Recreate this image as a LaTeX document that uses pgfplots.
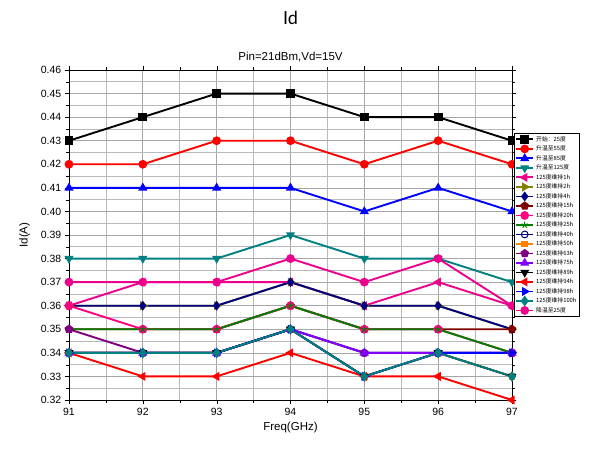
\documentclass[border=0pt]{standalone}
\usepackage{pgfplots}
\pgfplotsset{compat=1.18}
\usepackage{fontspec}
\setmainfont{Liberation Sans}
\newfontfamily\cjk{Noto Sans CJK SC}
\newfontfamily\titlefont{Lato}
\definecolor{cTeal}{RGB}{0,128,128}
\definecolor{cOlive}{RGB}{128,128,0}
\definecolor{cNavy}{RGB}{0,0,128}
\definecolor{cMaroon}{RGB}{128,0,0}
\definecolor{cPink}{RGB}{255,0,128}
\definecolor{cGreen}{RGB}{0,128,0}
\definecolor{cOrange}{RGB}{255,128,0}
\definecolor{cPurple}{RGB}{128,0,128}
\definecolor{cViolet}{RGB}{128,0,255}
\definecolor{cTeal2}{RGB}{0,128,128}
\begin{document}
\begin{tikzpicture}[x=1pt,y=1pt]
\useasboundingbox (-69,-54) rectangle (526,400);
\begin{axis}[
  at={(0,0)}, anchor=south west,
  scale only axis, width=443pt, height=330pt,
  xmin=91, xmax=97, ymin=0.32, ymax=0.46,
  xtick={91,...,97}, ytick={0.32,0.33,...,0.465},
  minor x tick num=1, minor y tick num=1,
  grid=both,
  major grid style={gray!70, line width=0.7pt},
  minor grid style={gray!55, line width=0.6pt},
  axis line style={black, line width=0.9pt},
  tick style={black},
  tick align=outside,
  yticklabel style={/pgf/number format/fixed,/pgf/number format/fixed zerofill,/pgf/number format/precision=2},
  /pgf/number format/assume math mode=true,
  ticklabel style={font=\fontsize{10.5}{12}\selectfont},
  xlabel={Freq(GHz)}, ylabel={Id(A)},
  label style={font=\fontsize{11.5}{13}\selectfont},
  ylabel style={yshift=4pt},
  title={Pin=21dBm,Vd=15V},
  title style={font=\fontsize{11.5}{13}\selectfont, yshift=-2pt},
  every axis plot/.append style={line width=1.9pt, mark size=3.4pt},
  legend style={at={(445pt,267pt)}, anchor=north west, font=\cjk\fontsize{5.8}{6}\selectfont,
    draw=black, line width=0.5pt, inner sep=1pt, row sep=-0.9pt, cells={anchor=west}},
  legend cell align=left,
  clip=false,
]
\addplot[black, mark=square*] coordinates {(91,0.43)(92,0.44)(93,0.45)(94,0.45)(95,0.44)(96,0.44)(97,0.43)};
\addlegendentry{开始：25度}
\addplot[red, mark=*] coordinates {(91,0.42)(92,0.42)(93,0.43)(94,0.43)(95,0.42)(96,0.43)(97,0.42)};
\addlegendentry{升温至55度}
\addplot[blue, mark=triangle*] coordinates {(91,0.41)(92,0.41)(93,0.41)(94,0.41)(95,0.40)(96,0.41)(97,0.40)};
\addlegendentry{升温至85度}
\addplot[cTeal, mark=triangle*, mark options={rotate=180}] coordinates {(91,0.38)(92,0.38)(93,0.38)(94,0.39)(95,0.38)(96,0.38)(97,0.37)};
\addlegendentry{升温至125度}
\addplot[magenta, mark=triangle*, mark options={rotate=90}] coordinates {(91,0.36)(92,0.37)(93,0.37)(94,0.37)(95,0.36)(96,0.37)(97,0.36)};
\addlegendentry{125度维持1h}
\addplot[cOlive, mark=triangle*, mark options={rotate=-90}] coordinates {(91,0.36)(92,0.36)(93,0.36)(94,0.37)(95,0.36)(96,0.36)(97,0.35)};
\addlegendentry{125度维持2h}
\addplot[cNavy, mark=diamond*] coordinates {(91,0.36)(92,0.36)(93,0.36)(94,0.37)(95,0.36)(96,0.36)(97,0.35)};
\addlegendentry{125度维持4h}
\addplot[cMaroon, mark=pentagon*] coordinates {(91,0.35)(92,0.35)(93,0.35)(94,0.36)(95,0.35)(96,0.35)(97,0.35)};
\addlegendentry{125度维持15h}
\addplot[cPink, mark=*] coordinates {(91,0.36)(92,0.35)(93,0.35)(94,0.36)(95,0.35)(96,0.35)(97,0.34)};
\addlegendentry{125度维持20h}
\addplot[cGreen, mark=star, mark options={line width=1pt}] coordinates {(91,0.35)(92,0.35)(93,0.35)(94,0.36)(95,0.35)(96,0.35)(97,0.34)};
\addlegendentry{125度维持25h}
\addplot[cNavy, mark=o, mark options={line width=1pt}] coordinates {(91,0.34)(92,0.34)(93,0.34)(94,0.35)(95,0.34)(96,0.34)(97,0.34)};
\addlegendentry{125度维持40h}
\addplot[cOrange, mark=square*, mark size=2.3pt] coordinates {(91,0.34)(92,0.34)(93,0.34)(94,0.35)(95,0.33)(96,0.34)(97,0.33)};
\addlegendentry{125度维持50h}
\addplot[cPurple, mark=pentagon*] coordinates {(91,0.35)(92,0.34)(93,0.34)(94,0.35)(95,0.34)(96,0.34)(97,0.34)};
\addlegendentry{125度维持63h}
\addplot[cViolet, mark=triangle*] coordinates {(91,0.34)(92,0.34)(93,0.34)(94,0.35)(95,0.34)(96,0.34)(97,0.34)};
\addlegendentry{125度维持75h}
\addplot[black, mark=triangle*, mark options={rotate=180}] coordinates {(91,0.34)(92,0.34)(93,0.34)(94,0.35)(95,0.33)(96,0.34)(97,0.33)};
\addlegendentry{125度维持89h}
\addplot[red, mark=triangle*, mark options={rotate=90}] coordinates {(91,0.34)(92,0.33)(93,0.33)(94,0.34)(95,0.33)(96,0.33)(97,0.32)};
\addlegendentry{125度维持94h}
\addplot[blue, mark=triangle*, mark options={rotate=-90}] coordinates {(91,0.34)(92,0.34)(93,0.34)(94,0.35)(95,0.33)(96,0.34)(97,0.34)};
\addlegendentry{125度维持98h}
\addplot[cTeal2, mark=diamond*, mark size=3.8pt] coordinates {(91,0.34)(92,0.34)(93,0.34)(94,0.35)(95,0.33)(96,0.34)(97,0.33)};
\addlegendentry{125度维持100h}
\addplot[magenta, mark=*] coordinates {(91,0.37)(92,0.37)(93,0.37)(94,0.38)(95,0.37)(96,0.38)(97,0.36)};
\addlegendentry{降温至25度}
\end{axis}
\node[font=\titlefont\fontsize{18}{20}\selectfont] at (221.5,382) {Id};
\end{tikzpicture}
\end{document}
